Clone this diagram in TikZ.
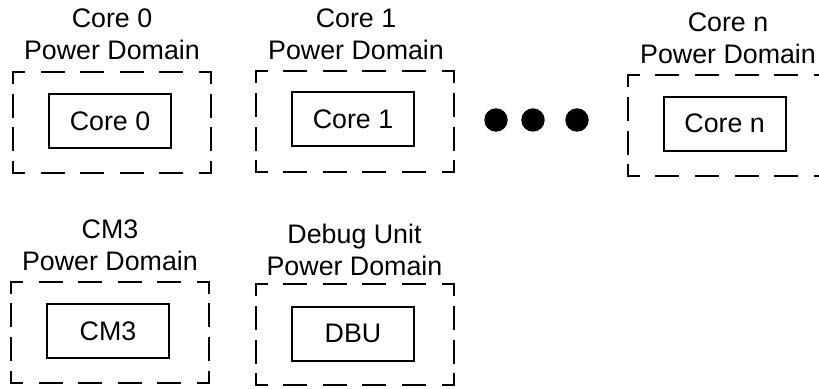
\documentclass[tikz,border=0pt]{standalone}
\usepackage{fontspec}
\setmainfont{Liberation Sans}
\usetikzlibrary{positioning}

% dashed frame of a power domain, each side with its own dash spacing
\newcommand{\dframe}[1]{%
  \draw[hside] (#1.north west) -- (#1.north east);
  \draw[hside] (#1.south west) -- (#1.south east);
  \draw[vside] (#1.north west) -- (#1.south west);
  \draw[vside] (#1.north east) -- (#1.south east);}

\begin{document}
\begin{tikzpicture}[x=0.5pt, y=-0.5pt,
    pdomain/.style={outer sep=0pt, inner sep=0pt, minimum width=99pt, minimum height=50.5pt},
    hside/.style={line width=1pt, line cap=rect, dash pattern=on 11pt off 8.8pt, dash phase=5.5pt},
    vside/.style={line width=1pt, line cap=rect, dash pattern=on 11pt off 5.8pt, dash phase=5.5pt},
    block/.style={draw, line width=1pt, minimum width=61pt, minimum height=27pt, font=\fontsize{13.4}{15}\selectfont},
    title/.style={align=center, font=\fontsize{13.4}{16}\selectfont},
    bigdot/.style={circle, fill, inner sep=0pt, minimum size=11.7pt}
]
\clip (0,0) rectangle (819,389);

% top row
\node[pdomain] (pd0) at (112,122.5) {};
\node[block] (core0) at (110,121) {Core 0};
\node[title] (t0) at (112,34) {Core 0\\Power Domain};
\dframe{pd0}

\node[pdomain] (pd1) at (354.5,122) {};
\node[block] (core1) at (353,119.5) {Core 1};
\node[title] (t1) at (356,34) {Core 1\\Power Domain};
\dframe{pd1}

\node[bigdot] (dot1) at (496,120) {};
\node[bigdot] (dot2) at (533,120) {};
\node[bigdot] (dot3) at (577,120) {};

\node[pdomain] (pdn) at (726.7,126) {};
\node[block] (coren) at (724.7,123.7) {Core n};
\node[title] (tn) at (728,38) {Core n\\Power Domain};
\dframe{pdn}

% bottom row
\node[pdomain] (pdcm) at (110,332.3) {};
\node[block] (cm3) at (108,331) {CM3};
\node[title] (tcm) at (110,245) {CM3\\Power Domain};
\dframe{pdcm}

\node[pdomain] (pddbu) at (354.5,335) {};
\node[block] (dbu) at (353,333.7) {DBU};
\node[title] (tdbu) at (354.5,250) {Debug Unit\\Power Domain};
\dframe{pddbu}
\end{tikzpicture}
\end{document}
